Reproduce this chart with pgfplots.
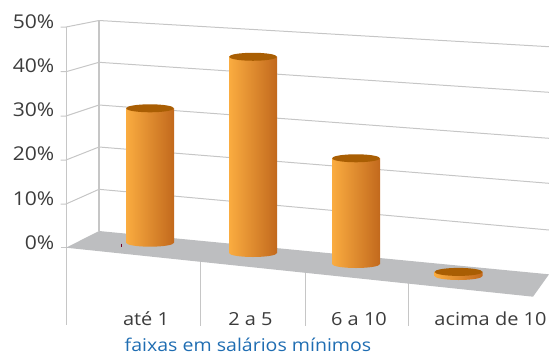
\documentclass[border=0pt]{standalone}
\usepackage{fontspec}
\setmainfont{Open Sans}[FakeStretch=1.11]
\usepackage{pgfplots}
\usepackage{pgfplotstable}
\pgfplotsset{compat=1.18}
\definecolor{gridgray}{HTML}{C6C6C6}
\definecolor{floorgray}{HTML}{BDBEC0}
\definecolor{labeltext}{HTML}{3C3C3C}
\definecolor{titleblue}{HTML}{1F6DB2}
\definecolor{capbrown}{HTML}{A95E03}
\definecolor{barlight}{HTML}{FAAC40}
\definecolor{barmid}{HTML}{E08B2E}
\definecolor{bardark}{HTML}{C2691D}

% Columns: bar centre, base level on the floor, share in percent, drawn length of one percent
\pgfplotstableread{
cx    base   value  unit
150   242.7  30.9   4.35
253   253.0  44.6   4.40
356   264.0  23.6   4.48
458.5 276.0   0.9   4.55
}\faixas

\pgfdeclareplotmark{cylinder}{%
  \path[draw=none, left color=barlight, middle color=barmid, right color=bardark]
    (-24pt,0pt) -- (-24pt,\barh pt) -- (24pt,\barh pt) -- (24pt,0pt)
    arc[start angle=0, end angle=-180, x radius=24pt, y radius=4pt] -- cycle;
  \path[draw=none, fill=capbrown] (0pt,\barh pt) ellipse[x radius=24pt, y radius=4pt];
}

\begin{document}
\begin{tikzpicture}
\path[use as bounding box] (0,0) rectangle (549pt,354pt);
\begin{axis}[
  at={(0,0)}, anchor=south west,
  scale only axis, width=549pt, height=354pt,
  xmin=0, xmax=549, ymin=0, ymax=354, y dir=reverse,
  axis lines=none, clip=false,
]
% Back wall and side wall lines, one level every ten percent
\addplot[draw=gridgray, line width=1pt] coordinates {(60.5,27) (66,27) (99,20.5) (549,46.7)};
\addplot[draw=gridgray, line width=1pt] coordinates {(60.5,71.7) (66,71.7) (99,62.3) (549,92.3)};
\addplot[draw=gridgray, line width=1pt] coordinates {(60.5,116) (66,116) (99,105) (549,138.3)};
\addplot[draw=gridgray, line width=1pt] coordinates {(60.5,160) (66,160) (99,147) (549,183.3)};
\addplot[draw=gridgray, line width=1pt] coordinates {(60.5,204) (66,204) (99,189.3) (549,230)};
\addplot[draw=gridgray, line width=1pt] coordinates {(60.5,247.7) (66,247.7)};
% Vertical edges and category separators
\addplot[draw=gridgray, line width=1pt] coordinates {(66,27) (66,325)};
\addplot[draw=gridgray, line width=1.2pt] coordinates {(99,20.5) (99,231)};
\addplot[draw=gridgray, line width=1pt] coordinates {(200.5,255) (200.5,326)};
\addplot[draw=gridgray, line width=1pt] coordinates {(305,265) (305,326)};
\addplot[draw=gridgray, line width=1pt] coordinates {(408.5,275) (408.5,326)};
% Floor
\addplot[fill=floorgray, draw=none] coordinates {(66,247.7) (99,231) (549,274.3) (533,296.7)} -- cycle;
\addplot[draw=purple!60!black, line width=0.5pt] coordinates {(121.4,243.5) (121.4,246.5)};
% Cylinders
\addplot[
  scatter, only marks, mark=cylinder,
  scatter/@pre marker code/.code={},
  scatter/@post marker code/.code={},
  visualization depends on={\thisrow{value}*\thisrow{unit} \as \barh},
] table[x=cx, y=base] {\faixas};
% Percent and category labels
\begin{scope}[every node/.style={font=\fontsize{18}{18}\selectfont, text=labeltext, inner sep=0pt}]
\begin{scope}[every node/.append style={font=\fontsize{19}{19}\selectfont}]
\node[anchor=base east] at (axis cs:54.5,28.7) {50\%};
\node[anchor=base east] at (axis cs:54.5,72.7) {40\%};
\node[anchor=base east] at (axis cs:54.5,116.7) {30\%};
\node[anchor=base east] at (axis cs:54.5,160.7) {20\%};
\node[anchor=base east] at (axis cs:54.5,205) {10\%};
\node[anchor=base east] at (axis cs:54.5,249) {0\%};
\end{scope}
\node[anchor=base] at (axis cs:146,325) {até 1};
\node[anchor=base] at (axis cs:250.5,325) {2 a 5};
\node[anchor=base] at (axis cs:359,325) {6 a 10};
\node[anchor=base] at (axis cs:490.5,325) {acima de 10};
\node[anchor=base, text=titleblue, font=\fontsize{17.6}{18}\selectfont] at (axis cs:248,351) {faixas em salários mínimos};
\end{scope}
\end{axis}
\end{tikzpicture}
\end{document}
